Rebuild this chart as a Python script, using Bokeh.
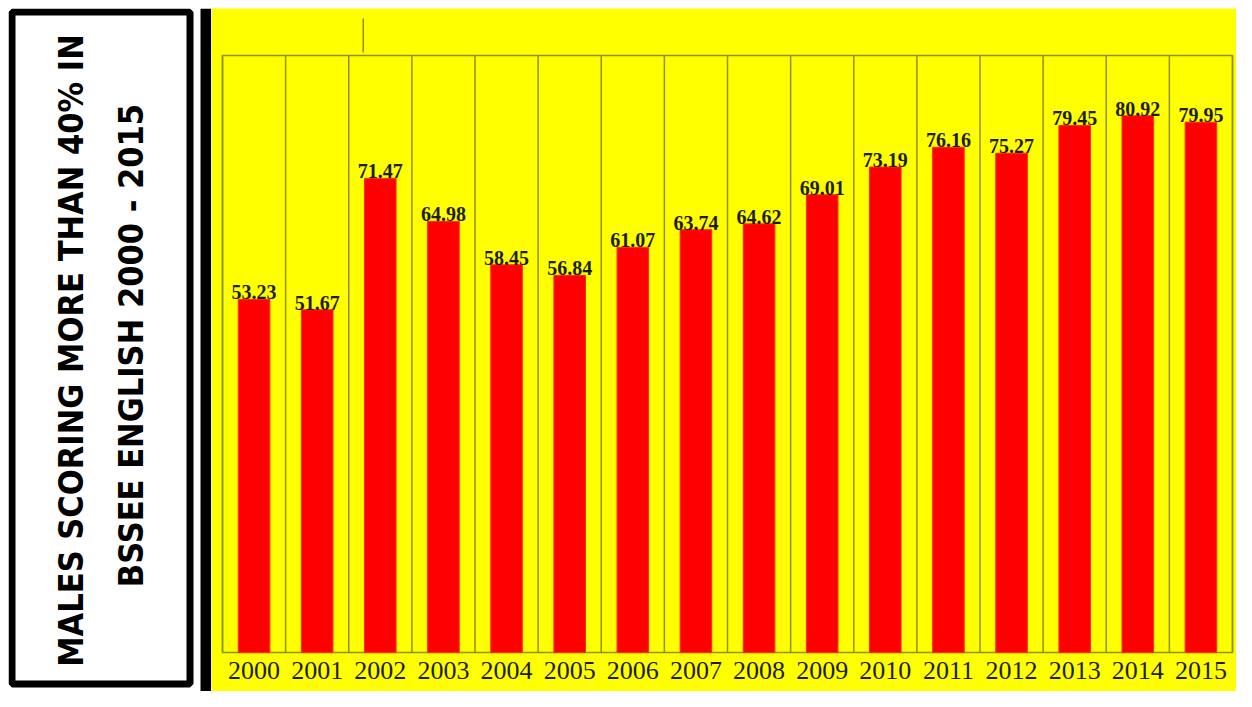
from math import pi
from bokeh.plotting import figure
from bokeh.layouts import row
from bokeh.models import Range1d, ColumnDataSource
from bokeh.core.properties import value
from bokeh.embed import file_html
from bokeh.resources import INLINE

years = ["2000", "2001", "2002", "2003", "2004", "2005", "2006", "2007",
         "2008", "2009", "2010", "2011", "2012", "2013", "2014", "2015"]
values = [53.23, 51.67, 71.47, 64.98, 58.45, 56.84, 61.07, 63.74,
          64.62, 69.01, 73.19, 76.16, 75.27, 79.45, 80.92, 79.95]
title_lines = ["MALES SCORING MORE THAN 40% IN", "BSSEE ENGLISH 2000 - 2015"]

YELLOW = "#FFFF00"
OLIVE = "#8f8f10"
TXT = "#1e1e10"
TITLE_FONT = "DejaVu Sans Condensed"
SERIF = "Liberation Serif"

W, H = 1236, 691
TOP = 8          # white strip above everything
TW = 211         # width of title figure
# ---- left title panel (frame covers x 8..211, y 8..691) ----
t = figure(width=TW, height=H, x_range=Range1d(0, TW - 8), y_range=Range1d(0, H - TOP),
           output_backend="svg", toolbar_location=None,
           min_border_left=8, min_border_top=TOP, min_border_right=0, min_border_bottom=0,
           background_fill_color="white", border_fill_color="white")
t.axis.visible = False
t.grid.visible = False
t.outline_line_color = None
t.quad(left=[3.5], right=[181.5], bottom=[7.5], top=[679.5],
       fill_color="white", line_color="black", line_width=7)
t.quad(left=[192], right=[TW - 8], bottom=[0], top=[H - TOP],
       fill_color="black", line_color=None)
t.text(x=[62, 122], y=[341, 346], text=title_lines, angle=pi / 2,
       text_align="center", text_baseline="middle",
       text_font=value(TITLE_FONT), text_font_style="bold",
       text_font_size="34px", text_color="black")

# ---- main bar chart (frame covers the whole yellow area) ----
n = len(years)
MW = W - TW                     # main figure width
PL, PR = 11, 4                  # plot box inset left/right (px)
PT, PB = 55 - TOP, H - 652      # plot box inset top/bottom (px)
YMAX = 90
kx = (MW - PL - PR) / n
ky = (H - TOP - PT - PB) / YMAX

xs = [i + 0.5 for i in range(n)]
src = ColumnDataSource(dict(x=xs, year=years, val=values,
                            lbl=[f"{v:.2f}" for v in values]))
edges = list(range(n + 1))

p = figure(width=MW, height=H,
           x_range=Range1d(-PL / kx, n + PR / kx),
           y_range=Range1d(-PB / ky, YMAX + PT / ky),
           output_backend="svg", toolbar_location=None,
           min_border_left=0, min_border_right=0, min_border_top=TOP, min_border_bottom=0,
           background_fill_color=YELLOW, border_fill_color="white")
p.outline_line_color = None
p.axis.visible = False
p.grid.visible = False

# category separators and plot box
p.segment(x0=edges, y0=[0] * len(edges), x1=edges, y1=[YMAX] * len(edges),
          line_color=OLIVE, line_width=1.5)
p.quad(left=[0], right=[n], bottom=[0], top=[YMAX], fill_color=None,
       line_color=OLIVE, line_width=1.5)

p.vbar(x="x", top="val", bottom=0, width=0.5, source=src,
       fill_color="#FF0000", line_color="#FF2a00", line_width=1)
p.text(x="x", y="val", text="lbl", source=src, y_offset=-7,
       text_align="center", text_baseline="alphabetic",
       text_font=value(SERIF), text_font_size="20px", text_font_style="bold",
       text_color=TXT)

# category labels under the plot box
p.text(x="x", y=0, text="year", source=src, y_offset=9,
       text_align="center", text_baseline="top",
       text_font=value(SERIF), text_font_size="26px", text_color=TXT)

# small stray tick above the plot box
p.segment(x0=[2.23], y0=[YMAX + 3 / ky], x1=[2.23], y1=[YMAX + 37 / ky],
          line_color=OLIVE, line_width=1.5)

layout = row(t, p)
open("out.html", "w").write(file_html(layout, INLINE))
